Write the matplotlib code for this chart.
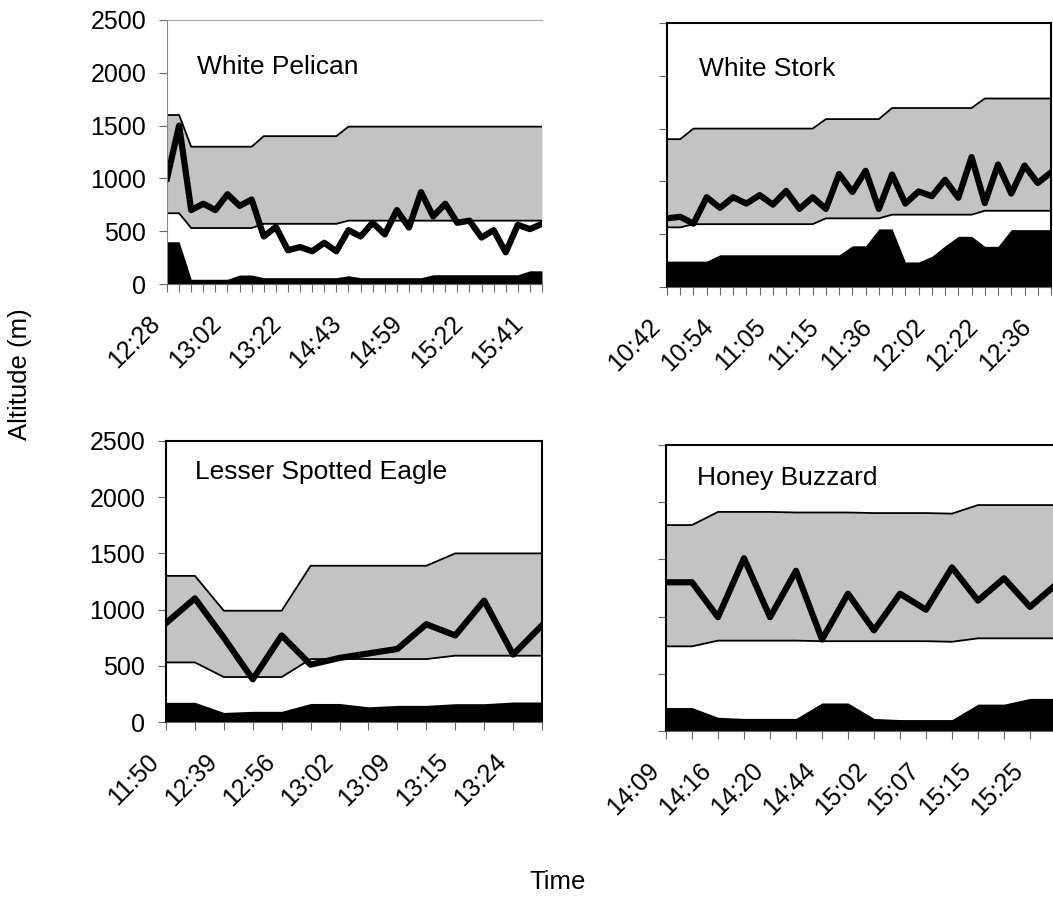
import numpy as np
import matplotlib
matplotlib.use("Agg")
import matplotlib.pyplot as plt
from matplotlib.transforms import ScaledTranslation

plt.rcParams['font.family'] = ['Liberation Sans', 'DejaVu Sans']

# White Pelican
pelican_labels = ['12:28', '13:02', '13:22', '14:43', '14:59', '15:22', '15:41']
pelican_alt = [1000, 1500, 700, 760, 700, 850, 740, 800, 450, 540, 320, 350, 310, 390, 310, 510,
               450, 580, 470, 700, 535, 870, 640, 760, 580, 600, 440, 510, 300, 560, 520, 570]
pelican_upper = [1600, 1600, 1300, 1300, 1300, 1300, 1300, 1300, 1400, 1400, 1400, 1400, 1400, 1400, 1400, 1490,
                 1490, 1490, 1490, 1490, 1490, 1490, 1490, 1490, 1490, 1490, 1490, 1490, 1490, 1490, 1490, 1490]
pelican_lower = [670, 670, 530, 530, 530, 530, 530, 530, 570, 570, 570, 570, 570, 570, 570, 600,
                 600, 600, 600, 600, 600, 600, 600, 600, 600, 600, 600, 600, 600, 600, 600, 600]
pelican_black = [400, 400, 45, 45, 45, 45, 85, 85, 60, 60, 60, 60, 60, 60, 60, 78,
                 60, 60, 60, 60, 60, 60, 88, 88, 88, 88, 88, 88, 88, 88, 125, 125]

# White Stork
stork_labels = ['10:42', '10:54', '11:05', '11:15', '11:36', '12:02', '12:22', '12:36']
stork_alt = [650, 665, 600, 850, 750, 850, 790, 870, 780, 910, 740, 850, 740, 1070, 900,
             1100, 740, 1065, 790, 905, 860, 1015, 845, 1230, 795, 1160, 885, 1150, 985, 1085]
stork_upper = [1400, 1400, 1500, 1500, 1500, 1500, 1500, 1500, 1500, 1500, 1500, 1500, 1590, 1590, 1590,
               1590, 1590, 1695, 1695, 1695, 1695, 1695, 1695, 1695, 1785, 1785, 1785, 1785, 1785, 1785]
stork_lower = [565, 565, 595, 595, 595, 595, 595, 595, 595, 595, 595, 595, 650, 650, 650,
               650, 650, 685, 685, 685, 685, 685, 685, 685, 722, 722, 722, 722, 722, 722]
stork_black = [245, 245, 245, 245, 305, 305, 305, 305, 305, 305, 305, 305, 305, 305, 390,
               390, 550, 550, 237, 237, 290, 390, 480, 480, 385, 385, 543, 543, 543, 543]

# Lesser Spotted Eagle
eagle_labels = ['11:50', '12:39', '12:56', '13:02', '13:09', '13:15', '13:24']
eagle_alt = [880, 1100, 750, 380, 770, 510, 570, 610, 650, 870, 770, 1080, 600, 860]
eagle_upper = [1300, 1300, 990, 990, 990, 1390, 1390, 1390, 1390, 1390, 1500, 1500, 1500, 1500]
eagle_lower = [530, 530, 400, 400, 400, 560, 560, 560, 560, 560, 590, 590, 590, 590]
eagle_black = [175, 175, 85, 95, 95, 165, 165, 135, 148, 148, 163, 163, 178, 178]

# Honey Buzzard
buzzard_labels = ['14:09', '14:16', '14:20', '14:44', '15:02', '15:07', '15:15', '15:25']
buzzard_alt = [1300, 1300, 995, 1510, 995, 1400, 800, 1200, 880, 1200, 1060, 1430, 1140, 1335, 1085, 1280]
buzzard_upper = [1800, 1800, 1915, 1915, 1915, 1910, 1910, 1910, 1905, 1905, 1905, 1900, 1975, 1975, 1975, 1975]
buzzard_lower = [740, 740, 790, 790, 790, 790, 785, 785, 785, 785, 785, 780, 810, 810, 810, 810]
buzzard_black = [205, 205, 120, 110, 110, 110, 245, 245, 110, 100, 100, 100, 235, 235, 285, 285]

W, H = 1053, 897
fig = plt.figure(figsize=(W / 100, H / 100), dpi=100)


def add_axes_px(left, right, top, bottom):
    return fig.add_axes([left / W, 1 - bottom / H, (right - left) / W, (bottom - top) / H])


def draw_panel(ax, alt, upper, lower, black, labels, step, title, title_xy,
               show_ylabels, frame_color, left_color):
    x = np.arange(len(alt))
    ax.fill_between(x, 0, black, color='black', lw=0)
    ax.fill_between(x, lower, upper, color='#c3c3c3', lw=0)
    ax.plot(x, upper, color='black', lw=1.3)
    ax.plot(x, lower, color='black', lw=1.3)
    ax.plot(x, alt, color='black', lw=4.5, solid_joinstyle='round')

    ax.set_xlim(0, len(alt) - 1)
    ax.set_ylim(0, 2500)
    ax.set_yticks(range(0, 2501, 500))
    ax.set_xticks(x)
    ax.set_xticklabels([labels[i // step] if i % step == 0 else '' for i in x])
    ax.tick_params(axis='x', direction='out', length=6, width=0.8, color='#666666', pad=20,
                   labelsize=18)
    ax.tick_params(axis='y', direction='out', length=6, width=0.8, color='#666666', pad=9,
                   labelsize=18, labelleft=show_ylabels)
    off = ScaledTranslation(-10.5 / 100, 0, fig.dpi_scale_trans)
    for lbl in ax.get_xticklabels():
        lbl.set_rotation(45)
        lbl.set_rotation_mode('anchor')
        lbl.set_ha('right')
        lbl.set_va('center')
        lbl.set_transform(lbl.get_transform() + off)

    for side in ['top', 'right']:
        if frame_color is None:
            ax.spines[side].set_visible(False)
        else:
            ax.spines[side].set_color(frame_color)
            ax.spines[side].set_linewidth(1.5)
    ax.spines['left'].set_color(left_color)
    ax.spines['left'].set_linewidth(1.5 if left_color == 'black' else 0.8)
    ax.spines['bottom'].set_color('#666666')
    ax.spines['bottom'].set_linewidth(0.8)

    ax.text(title_xy[0], title_xy[1], title, transform=ax.transAxes, fontsize=19,
            ha='left', va='baseline')


ax1 = add_axes_px(167, 542, 20, 284)
draw_panel(ax1, pelican_alt, pelican_upper, pelican_lower, pelican_black, pelican_labels, 5,
           'White Pelican', (0.08, 0.795), True, None, '#888888')
ax1.spines['top'].set_visible(True)
ax1.spines['top'].set_color('#aaaaaa')
ax1.spines['top'].set_linewidth(0.8)

ax2 = add_axes_px(667, 1051, 23, 287)
draw_panel(ax2, stork_alt, stork_upper, stork_lower, stork_black, stork_labels, 4,
           'White Stork', (0.084, 0.80), False, 'black', 'black')

ax3 = add_axes_px(166, 542, 441, 722)
draw_panel(ax3, eagle_alt, eagle_upper, eagle_lower, eagle_black, eagle_labels, 2,
           'Lesser Spotted Eagle', (0.077, 0.864), True, 'black', 'black')

ax4 = add_axes_px(666, 1056, 445, 731)
draw_panel(ax4, buzzard_alt, buzzard_upper, buzzard_lower, buzzard_black, buzzard_labels, 2,
           'Honey Buzzard', (0.08, 0.86), False, 'black', 'black')

fig.text(20 / W, 1 - 374 / H, 'Altitude (m)', rotation=90, fontsize=18.5, ha='center', va='center')
fig.text(558 / W, 1 - 882 / H, 'Time', fontsize=18.5, ha='center', va='center')

fig.savefig('out.png', dpi=100)
